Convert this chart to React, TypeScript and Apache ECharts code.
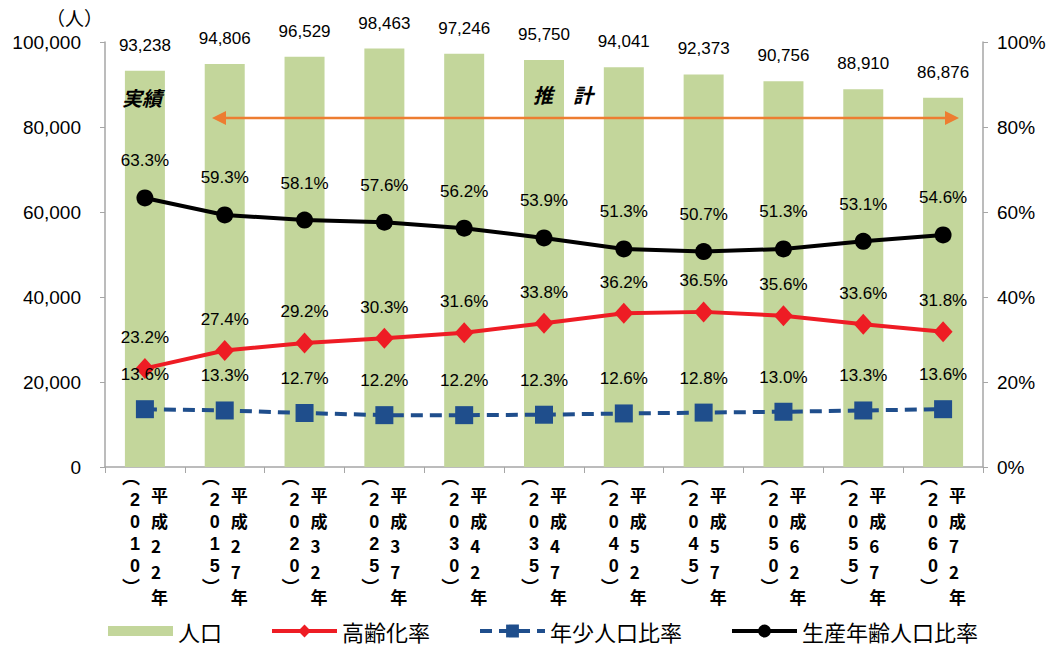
import React, { useEffect, useRef } from "react";
import * as echarts from "echarts";

const westernYears = ["2010", "2015", "2020", "2025", "2030", "2035", "2040", "2045", "2050", "2055", "2060"];
const heiseiYears = ["22", "27", "32", "37", "42", "47", "52", "57", "62", "67", "72"];
const population = [93238, 94806, 96529, 98463, 97246, 95750, 94041, 92373, 90756, 88910, 86876];
const agingRate = [23.2, 27.4, 29.2, 30.3, 31.6, 33.8, 36.2, 36.5, 35.6, 33.6, 31.8];
const youthRate = [13.6, 13.3, 12.7, 12.2, 12.2, 12.3, 12.6, 12.8, 13.0, 13.3, 13.6];
const workingRate = [63.3, 59.3, 58.1, 57.6, 56.2, 53.9, 51.3, 50.7, 51.3, 53.1, 54.6];
const leftTicks = { min: 0, max: 100000, interval: 20000 };
const rightTicks = { min: 0, max: 100, interval: 20 };

const NUM_FONT = "'Liberation Sans', Arial, 'Noto Sans CJK JP', sans-serif";
const CJK_FONT = "'Noto Sans CJK JP', 'Liberation Sans', sans-serif";

const withComma = (v: number) => String(v).replace(/\B(?=(\d{3})+(?!\d))/g, ",");

export default function App() {
  const ref = useRef<HTMLDivElement>(null);
  useEffect(() => {
    if (!ref.current) return;
    const chart = echarts.init(ref.current, null, { renderer: "svg" });
    const axisGray = "#a6a6a6";
    const lineLabel = (dist: number) => ({
      show: true,
      position: "top" as const,
      distance: dist,
      formatter: (p: any) => p.value.toFixed(1) + "%",
      color: "#000",
      fontSize: 17,
      fontFamily: NUM_FONT,
    });
    chart.setOption({
      animation: false,
      backgroundColor: "#ffffff",
      grid: { left: 105, right: 68, top: 42, bottom: 179 },
      legend: {
        left: 108,
        top: 620,
        padding: 0,
        itemWidth: 65,
        itemHeight: 16,
        itemGap: 48,
        textStyle: { fontSize: 22, fontFamily: CJK_FONT, color: "#000" },
        data: [
          { name: "人口", icon: "path://M0,0h65v10h-65z" },
          { name: "高齢化率", lineStyle: { width: 4 } },
          { name: "年少人口比率", lineStyle: { width: 4 } },
          { name: "生産年齢人口比率", lineStyle: { width: 4 } },
        ],
      },
      xAxis: [
        {
          type: "category",
          data: westernYears,
          position: "bottom",
          axisLine: { show: true, lineStyle: { color: axisGray, width: 1.5 } },
          axisTick: { show: true, length: 6, lineStyle: { color: axisGray } },
          axisLabel: {
            interval: 0,
            margin: 0,
            formatter: (v: string) => "︵\n" + v.split("").join("\n") + "\n︶",
            lineHeight: 22,
            fontSize: 18,
            fontWeight: "bold",
            fontFamily: NUM_FONT,
            color: "#000",
            align: "right",
            padding: [0, 5, 0, 0],
          },
        },
        {
          type: "category",
          data: heiseiYears,
          position: "bottom",
          axisLine: { show: false },
          axisTick: { show: false },
          axisLabel: {
            interval: 0,
            margin: 15,
            formatter: (v: string) => "平\n成\n" + v.split("").join("\n") + "\n年",
            lineHeight: 25.5,
            fontSize: 17,
            fontWeight: "bold",
            fontFamily: CJK_FONT,
            color: "#000",
            align: "left",
            padding: [0, 0, 0, 6],
          },
        },
      ],
      yAxis: [
        {
          type: "value",
          ...leftTicks,
          name: "（人）",
          nameLocation: "end",
          nameGap: 15,
          nameTextStyle: { align: "right", padding: [0, 2, 0, 0], fontSize: 19, fontFamily: CJK_FONT, color: "#000" },
          axisLine: { show: true, lineStyle: { color: axisGray, width: 1.5 } },
          axisTick: { show: true, length: 5, lineStyle: { color: axisGray } },
          splitLine: { show: false },
          axisLabel: { formatter: withComma, fontSize: 19, fontFamily: NUM_FONT, color: "#000", margin: 24 },
        },
        {
          type: "value",
          ...rightTicks,
          position: "right",
          axisLine: { show: true, lineStyle: { color: axisGray, width: 1.5 } },
          axisTick: { show: true, length: 5, lineStyle: { color: axisGray } },
          splitLine: { show: false },
          axisLabel: { formatter: "{value}%", fontSize: 19, fontFamily: NUM_FONT, color: "#000", margin: 14 },
        },
      ],
      series: [
        {
          name: "人口",
          type: "bar",
          xAxisIndex: 0,
          yAxisIndex: 0,
          data: population,
          barWidth: 40,
          itemStyle: { color: "#c3d69b" },
          label: {
            show: true,
            position: "top",
            distance: 17,
            formatter: (p: any) => withComma(p.value),
            color: "#000",
            fontSize: 17,
            fontFamily: NUM_FONT,
          },
        },
        {
          name: "生産年齢人口比率",
          type: "line",
          xAxisIndex: 0,
          yAxisIndex: 1,
          data: workingRate,
          symbol: "circle",
          symbolSize: 17,
          itemStyle: { color: "#000000" },
          lineStyle: { color: "#000000", width: 4 },
          label: lineLabel(20),
        },
        {
          name: "高齢化率",
          type: "line",
          xAxisIndex: 0,
          yAxisIndex: 1,
          data: agingRate,
          symbol: "diamond",
          symbolSize: [19, 21],
          itemStyle: { color: "#ee1c24" },
          lineStyle: { color: "#ee1c24", width: 4 },
          label: lineLabel(12),
        },
        {
          name: "年少人口比率",
          type: "line",
          xAxisIndex: 0,
          yAxisIndex: 1,
          data: youthRate,
          symbol: "rect",
          symbolSize: 18,
          itemStyle: { color: "#1f4e8c" },
          lineStyle: { color: "#1f4e8c", width: 4, type: [12, 7] },
          label: lineLabel(17),
        },
      ],
      graphic: [
        {
          type: "text",
          z: 100,
          left: 122,
          top: 87,
          style: { text: "実績", fontSize: 20, fontWeight: "bold", fontStyle: "italic", fontFamily: CJK_FONT, fill: "#000" },
        },
        {
          type: "text",
          z: 100,
          left: 533,
          top: 84,
          style: { text: "推　計", fontSize: 20, fontWeight: "bold", fontStyle: "italic", fontFamily: CJK_FONT, fill: "#000" },
        },
        {
          type: "line",
          z: 100,
          shape: { x1: 222, y1: 118, x2: 948, y2: 118 },
          style: { stroke: "#ed7d31", lineWidth: 2.5 },
        },
        {
          type: "polygon",
          z: 100,
          shape: { points: [[212, 118], [226, 111], [226, 125]] },
          style: { fill: "#ed7d31" },
        },
        {
          type: "polygon",
          z: 100,
          shape: { points: [[959, 118], [945, 111], [945, 125]] },
          style: { fill: "#ed7d31" },
        },
      ],
    });
    return () => chart.dispose();
  }, []);
  return <div ref={ref} style={{ width: 1051, height: 646, position: "absolute", left: 0, top: 0 }} />;
}
